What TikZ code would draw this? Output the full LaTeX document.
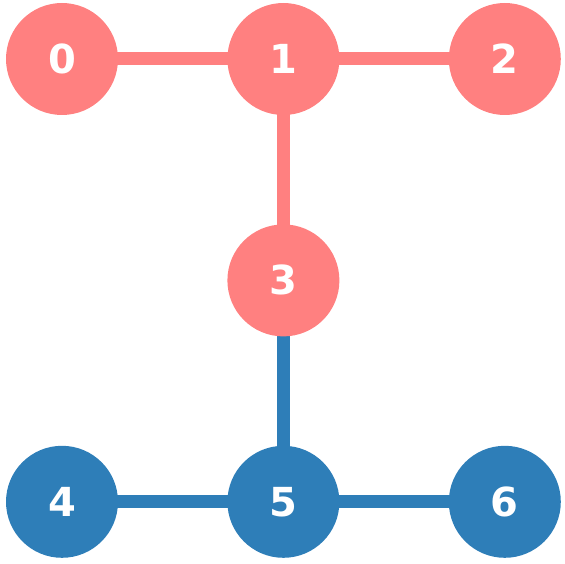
\documentclass[tikz,border=0pt]{standalone}
\usepackage{fontspec}
\setmainfont{DejaVu Sans}
\usetikzlibrary{positioning,backgrounds}
\definecolor{redgroup}{RGB}{255,128,128}
\definecolor{bluegroup}{RGB}{46,126,184}

\begin{document}
\begin{tikzpicture}[
node distance=109pt and 109pt,
vert/.style={circle,draw=none,minimum size=112pt,inner sep=0pt,text=white,font=\fontsize{40}{40}\selectfont\bfseries},
redv/.style={vert,fill=redgroup},
bluev/.style={vert,fill=bluegroup},
edge/.style={line width=13pt}
]
\useasboundingbox (0,0) rectangle (564pt,-564pt);
\node[redv] (n0) at (62pt,-59pt) {0};
\node[redv] (n1) [right=of n0] {1};
\node[redv] (n2) [right=of n1] {2};
\node[redv] (n3) [below=of n1] {3};
\node[bluev] (n5) [below=of n3] {5};
\node[bluev] (n4) [left=of n5] {4};
\node[bluev] (n6) [right=of n5] {6};

\begin{scope}[on background layer]
\draw[edge,redgroup] (n0.center) -- (n1.center);
\draw[edge,redgroup] (n1.center) -- (n2.center);
\draw[edge,redgroup] (n1.center) -- (n3.center);
\draw[edge,bluegroup] (n3.center) -- (n5.center);
\draw[edge,bluegroup] (n4.center) -- (n5.center);
\draw[edge,bluegroup] (n5.center) -- (n6.center);
\end{scope}
\end{tikzpicture}
\end{document}
